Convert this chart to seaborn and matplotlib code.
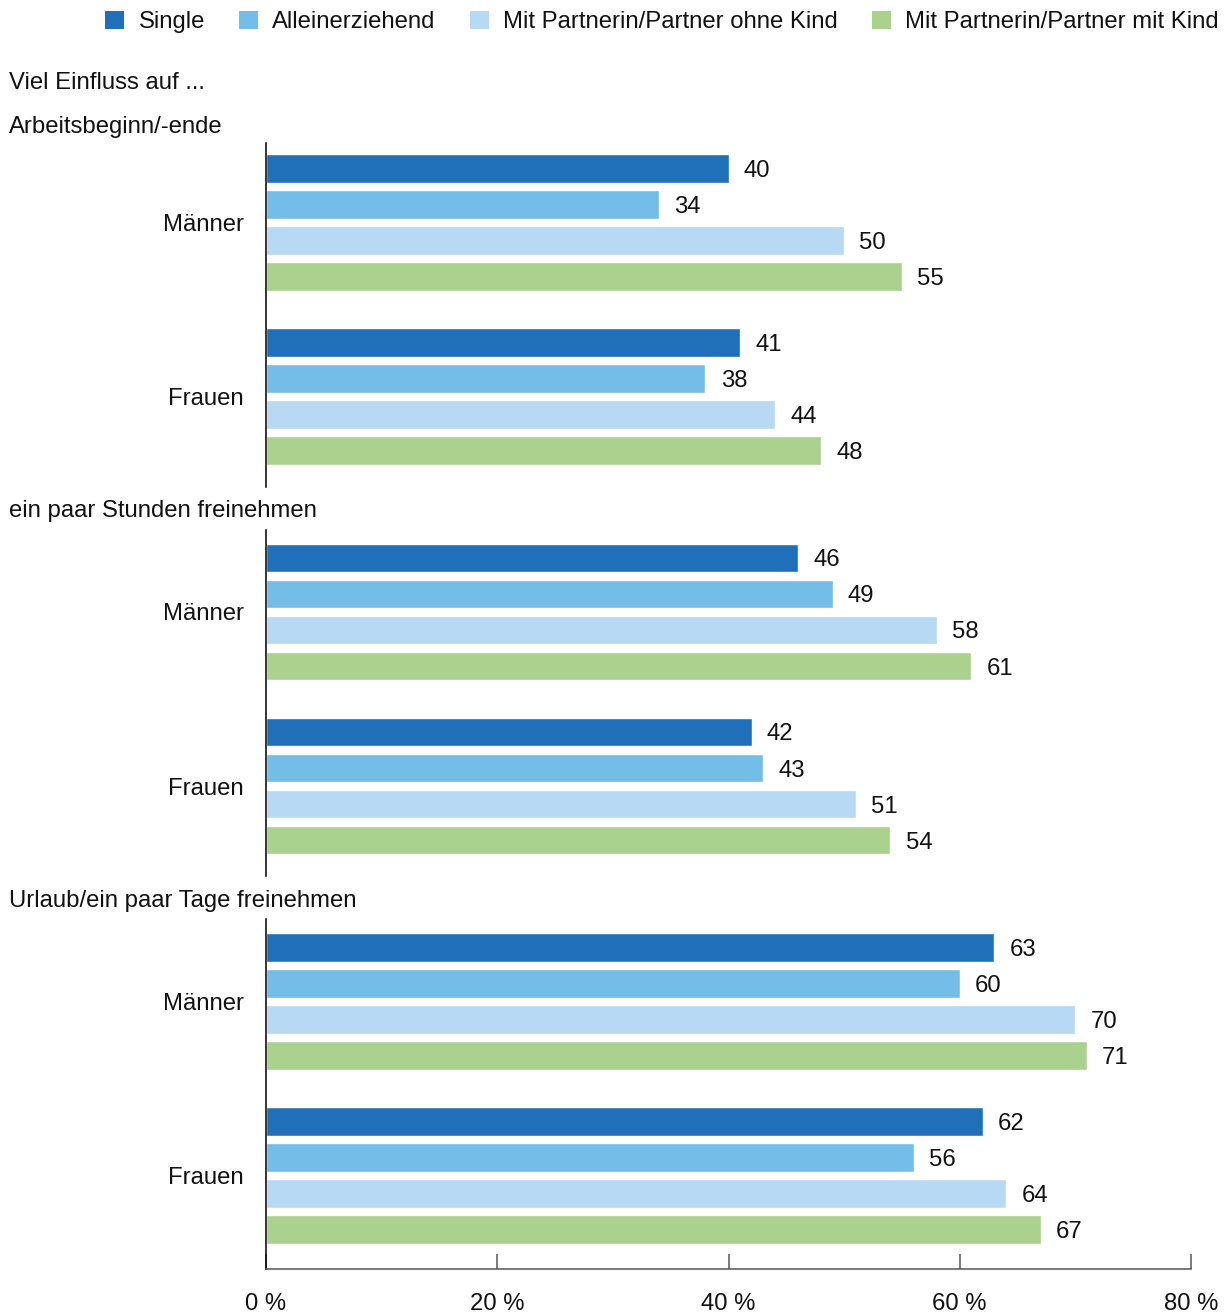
import numpy as np
import pandas as pd
import matplotlib.pyplot as plt
import seaborn as sns
from matplotlib.patches import Patch

sns.set_style("white")
plt.rcParams['font.family'] = ['Liberation Sans', 'DejaVu Sans']

# data
gruppen = ["Single", "Alleinerziehend", "Mit Partnerin/Partner ohne Kind", "Mit Partnerin/Partner mit Kind"]
geschlecht = ["Männer", "Frauen"]
panels = ["Arbeitsbeginn/-ende", "ein paar Stunden freinehmen", "Urlaub/ein paar Tage freinehmen"]
arbeitszeit_m = [40, 34, 50, 55]
arbeitszeit_f = [41, 38, 44, 48]
stunden_m = [46, 49, 58, 61]
stunden_f = [42, 43, 51, 54]
urlaub_m = [63, 60, 70, 71]
urlaub_f = [62, 56, 64, 67]
xticks = [0, 20, 40, 60, 80]
xticklabels = ["0 %", "20 %", "40 %", "60 %", "80 %"]
colors = ["#1f70b8", "#75bde9", "#b7d9f4", "#abd18f"]

werte = [(arbeitszeit_m, arbeitszeit_f), (stunden_m, stunden_f), (urlaub_m, urlaub_f)]

W, H = 1230, 1313
fig = plt.figure(figsize=(W / 100, H / 100), dpi=100)
fs = 17.2

# axes boxes in pixels: (top, bottom, ylim_top, ylim_bottom)
boxes = [(143, 487, -0.457, 1.520), (530, 876, -0.471, 1.517), (919, 1269, -0.474, 1.537)]
title_base = [133, 517, 907]
left, right = 266, 1191

for i, (name, (m, f)) in enumerate(zip(panels, werte)):
    top, bot, y0, y1 = boxes[i]
    ax = fig.add_axes([left / W, 1 - bot / H, (right - left) / W, (bot - top) / H])
    df = pd.DataFrame({
        "Geschlecht": ["Männer"] * 4 + ["Frauen"] * 4,
        "Gruppe": gruppen * 2,
        "Wert": m + f,
    })
    sns.barplot(data=df, x="Wert", y="Geschlecht", hue="Gruppe", order=geschlecht,
                hue_order=gruppen, palette=colors, orient="h", width=0.828, gap=0.2,
                saturation=1, legend=False, ax=ax, err_kws={"linewidth": 0})
    for c in ax.containers:
        lbls = ax.bar_label(c, padding=11, fontsize=fs, color="#111111")
        for t in lbls:
            t.set_va("center_baseline")
    ax.set_xlim(0, 80)
    ax.set_ylim(y1, y0)
    ax.set_xlabel("")
    ax.set_ylabel("")
    for s in ["top", "right"]:
        ax.spines[s].set_visible(False)
    ax.spines["left"].set_color("black")
    ax.spines["left"].set_linewidth(1.1)
    ax.tick_params(axis="y", length=0, pad=16, labelsize=fs, labelcolor="#111111")
    if i < 2:
        ax.spines["bottom"].set_visible(False)
        ax.set_xticks([])
    else:
        ax.spines["bottom"].set_color("#555555")
        ax.spines["bottom"].set_linewidth(1.1)
        ax.set_xticks(xticks)
        ax.set_xticklabels(xticklabels)
        ax.tick_params(axis="x", bottom=True, direction="in", length=11, width=1.1, color="#555555",
                       pad=17, labelsize=fs, labelcolor="#111111")
    fig.text(9 / W, 1 - title_base[i] / H, name, fontsize=fs, ha="left", va="baseline", color="#111111")

fig.text(9 / W, 1 - 89 / H, "Viel Einfluss auf ...", fontsize=fs, ha="left", va="baseline", color="#111111")

handles = [Patch(facecolor=c, edgecolor="none") for c in colors]
fig.legend(handles, gruppen, loc="center", bbox_to_anchor=(662 / W, 1 - 22 / H), ncol=4,
           frameon=False, fontsize=fs, handlelength=0.8, handleheight=0.8,
           handletextpad=0.6, columnspacing=1.42, borderpad=0, labelcolor="#111111")

fig.savefig("out.png", dpi=100)
